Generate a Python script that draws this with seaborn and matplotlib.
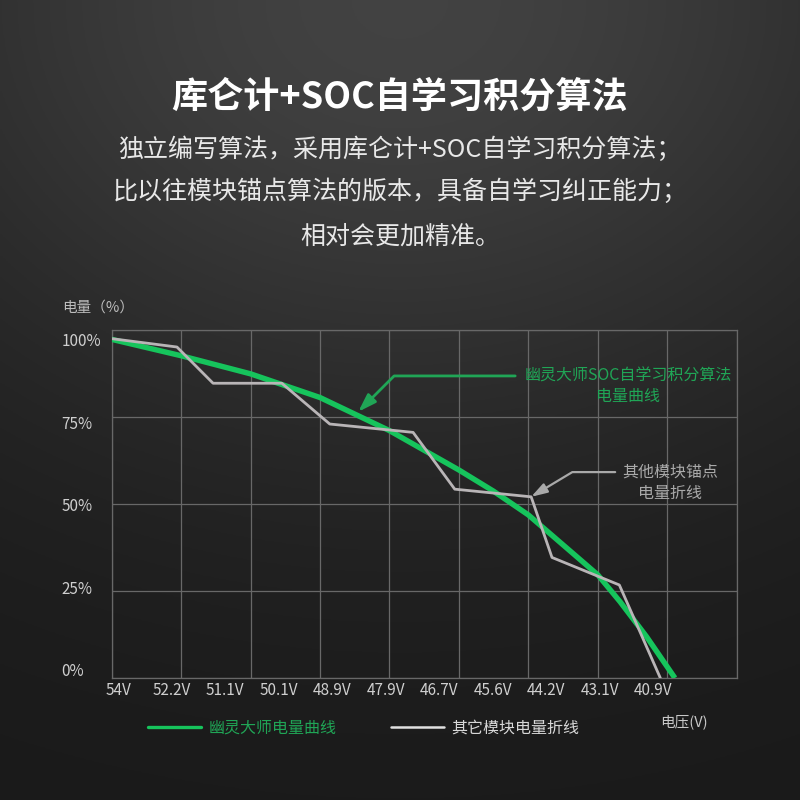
import numpy as np
import seaborn as sns
import matplotlib.pyplot as plt
from matplotlib.lines import Line2D

# --- data ---
# x is measured in grid columns (0..9), y in percent of charge
VOLT_LABELS = ["54V", "52.2V", "51.1V", "50.1V", "48.9V", "47.9V",
               "46.7V", "45.6V", "44.2V", "43.1V", "40.9V"]
PCT_LABELS = ["0%", "25%", "50%", "75%", "100%"]

SOC_X = [0, 1, 2, 3, 4, 5, 5.5, 6, 6.5, 7.0, 7.32, 7.7, 8.11]
SOC_Y = [97.2, 92.5, 87.3, 80.5, 71.0, 59.7, 53.6, 46.8, 38.2, 29.6, 21.9, 11.9, 0]

ANCHOR_X = [0, 0.94, 1.46, 2.45, 3.14, 4.34, 4.94, 6.04, 6.34, 7.31, 7.90]
ANCHOR_Y = [97.4, 95.0, 84.6, 84.6, 72.9, 70.5, 54.2, 52.0, 34.6, 26.7, 0]

GREEN = "#16c45c"
GREEN_TXT = "#20a556"
GRAY = "#b9b5b7"
GRID = "#686868"

sns.set_style("dark")
plt.rcParams['font.family'] = ['Noto Sans CJK SC', 'DejaVu Sans']

fig = plt.figure(figsize=(8, 8), dpi=100)

# background gradient
bg = fig.add_axes([0, 0, 1, 1], zorder=-5)
yy, xx = np.mgrid[0:1:300j, 0:1:300j]
shade = 0.10 + 0.16 * np.exp(-(((xx - 0.5) / 0.7) ** 2 + (yy / 0.55) ** 2))
bg.imshow(np.dstack([shade] * 3), extent=[0, 1, 0, 1], aspect='auto')
bg.axis('off')

ax = fig.add_axes([0.1396, 0.1525, 0.7813, 0.4355])
ax.set_facecolor('none')

sns.lineplot(x=SOC_X, y=SOC_Y, ax=ax, color=GREEN, lw=3.9, zorder=3,
             solid_capstyle='butt')
sns.lineplot(x=ANCHOR_X, y=ANCHOR_Y, ax=ax, color=GRAY, lw=2.0, zorder=4)

ax.set_xlim(0, 9)
ax.set_ylim(0, 100)
ax.set_xticks(range(10))
ax.set_yticks([0, 25, 50, 75, 100])
ax.tick_params(length=0, labelbottom=False, labelleft=False)
ax.grid(True, color=GRID, lw=0.9)
for s in ax.spines.values():
    s.set_color(GRID)
    s.set_linewidth(0.9)
ax.set_xlabel('')
ax.set_ylabel('')

# overlay axes carrying the tick labels (they sit off the grid lines)
lab = fig.add_axes(ax.get_position(), zorder=1)
lab.set_facecolor('none')
lab.set_xlim(-0.118, 11.56)
lab.set_ylim(-0.097, 4.126)
lab.set_xticks(range(len(VOLT_LABELS)))
lab.set_xticklabels(VOLT_LABELS, fontsize=11, color='#cfcfcf')
lab.set_yticks(range(len(PCT_LABELS)))
lab.set_yticklabels(PCT_LABELS, fontsize=11, color='#cfcfcf', ha='left')
lab.tick_params(length=0, axis='x', pad=3)
lab.tick_params(length=0, axis='y', pad=36)
for s in lab.spines.values():
    s.set_visible(False)

# annotations
ax.annotate('', xy=(3.55, 76.4), xytext=(5.81, 86.7),
            arrowprops=dict(arrowstyle='-|>,head_length=0.9,head_width=0.3',
                            connectionstyle='angle,angleA=0,angleB=45,rad=0',
                            color=GREEN_TXT, lw=2, shrinkA=0, shrinkB=0,
                            mutation_scale=12), zorder=5)
ax.text(7.44, 86.7, '幽灵大师SOC自学习积分算法', color=GREEN_TXT, fontsize=11.5,
        ha='center', va='center')
ax.text(7.44, 80.7, '电量曲线', color=GREEN_TXT, fontsize=11.5,
        ha='center', va='center')

ax.annotate('', xy=(ANCHOR_X[7], ANCHOR_Y[7]), xytext=(7.25, 59.1),
            arrowprops=dict(arrowstyle='-|>,head_length=0.8,head_width=0.25',
                            connectionstyle='angle,angleA=0,angleB=31,rad=0',
                            color='#a9a9a9', lw=1.6, shrinkA=0, shrinkB=0,
                            mutation_scale=12), zorder=5)
ax.text(8.04, 59.1, '其他模块锚点', color='#a9a9a9', fontsize=11.5,
        ha='center', va='center')
ax.text(8.04, 53.1, '电量折线', color='#a9a9a9', fontsize=11.5,
        ha='center', va='center')

# titles
fig.text(0.5, 0.879, '库仑计+SOC自学习积分算法', color='white', fontsize=26,
         fontweight='bold', ha='center', va='center')
subtitle = ['独立编写算法，采用库仑计+SOC自学习积分算法；',
            '比以往模块锚点算法的版本，具备自学习纠正能力；',
            '相对会更加精准。']
for line, yv in zip(subtitle, [0.8125, 0.76, 0.704]):
    fig.text(0.5, yv, line, color='#e8e8e8', fontsize=18, ha='center', va='center')

fig.text(0.0775, 0.615, '电量（%）', color='#bdbdbd', fontsize=10.5,
         ha='left', va='center')
fig.text(0.825, 0.0975, '电压(V)', color='#c8c8c8', fontsize=10.5,
         ha='left', va='center')

# legend
handles = [Line2D([], [], color=GREEN, lw=2.4),
           Line2D([], [], color='#e0e0e0', lw=1.8)]
fig.legend(handles, ['幽灵大师电量曲线', '其它模块电量折线'],
           loc='center left', bbox_to_anchor=(0.185, 0.09), ncol=2,
           frameon=False, fontsize=11.5, borderpad=0, borderaxespad=0,
           handlelength=3.3, handletextpad=0.5, columnspacing=3.4,
           labelcolor=[GREEN_TXT, '#d8d8d8'])

fig.savefig('out.png', dpi=100)
